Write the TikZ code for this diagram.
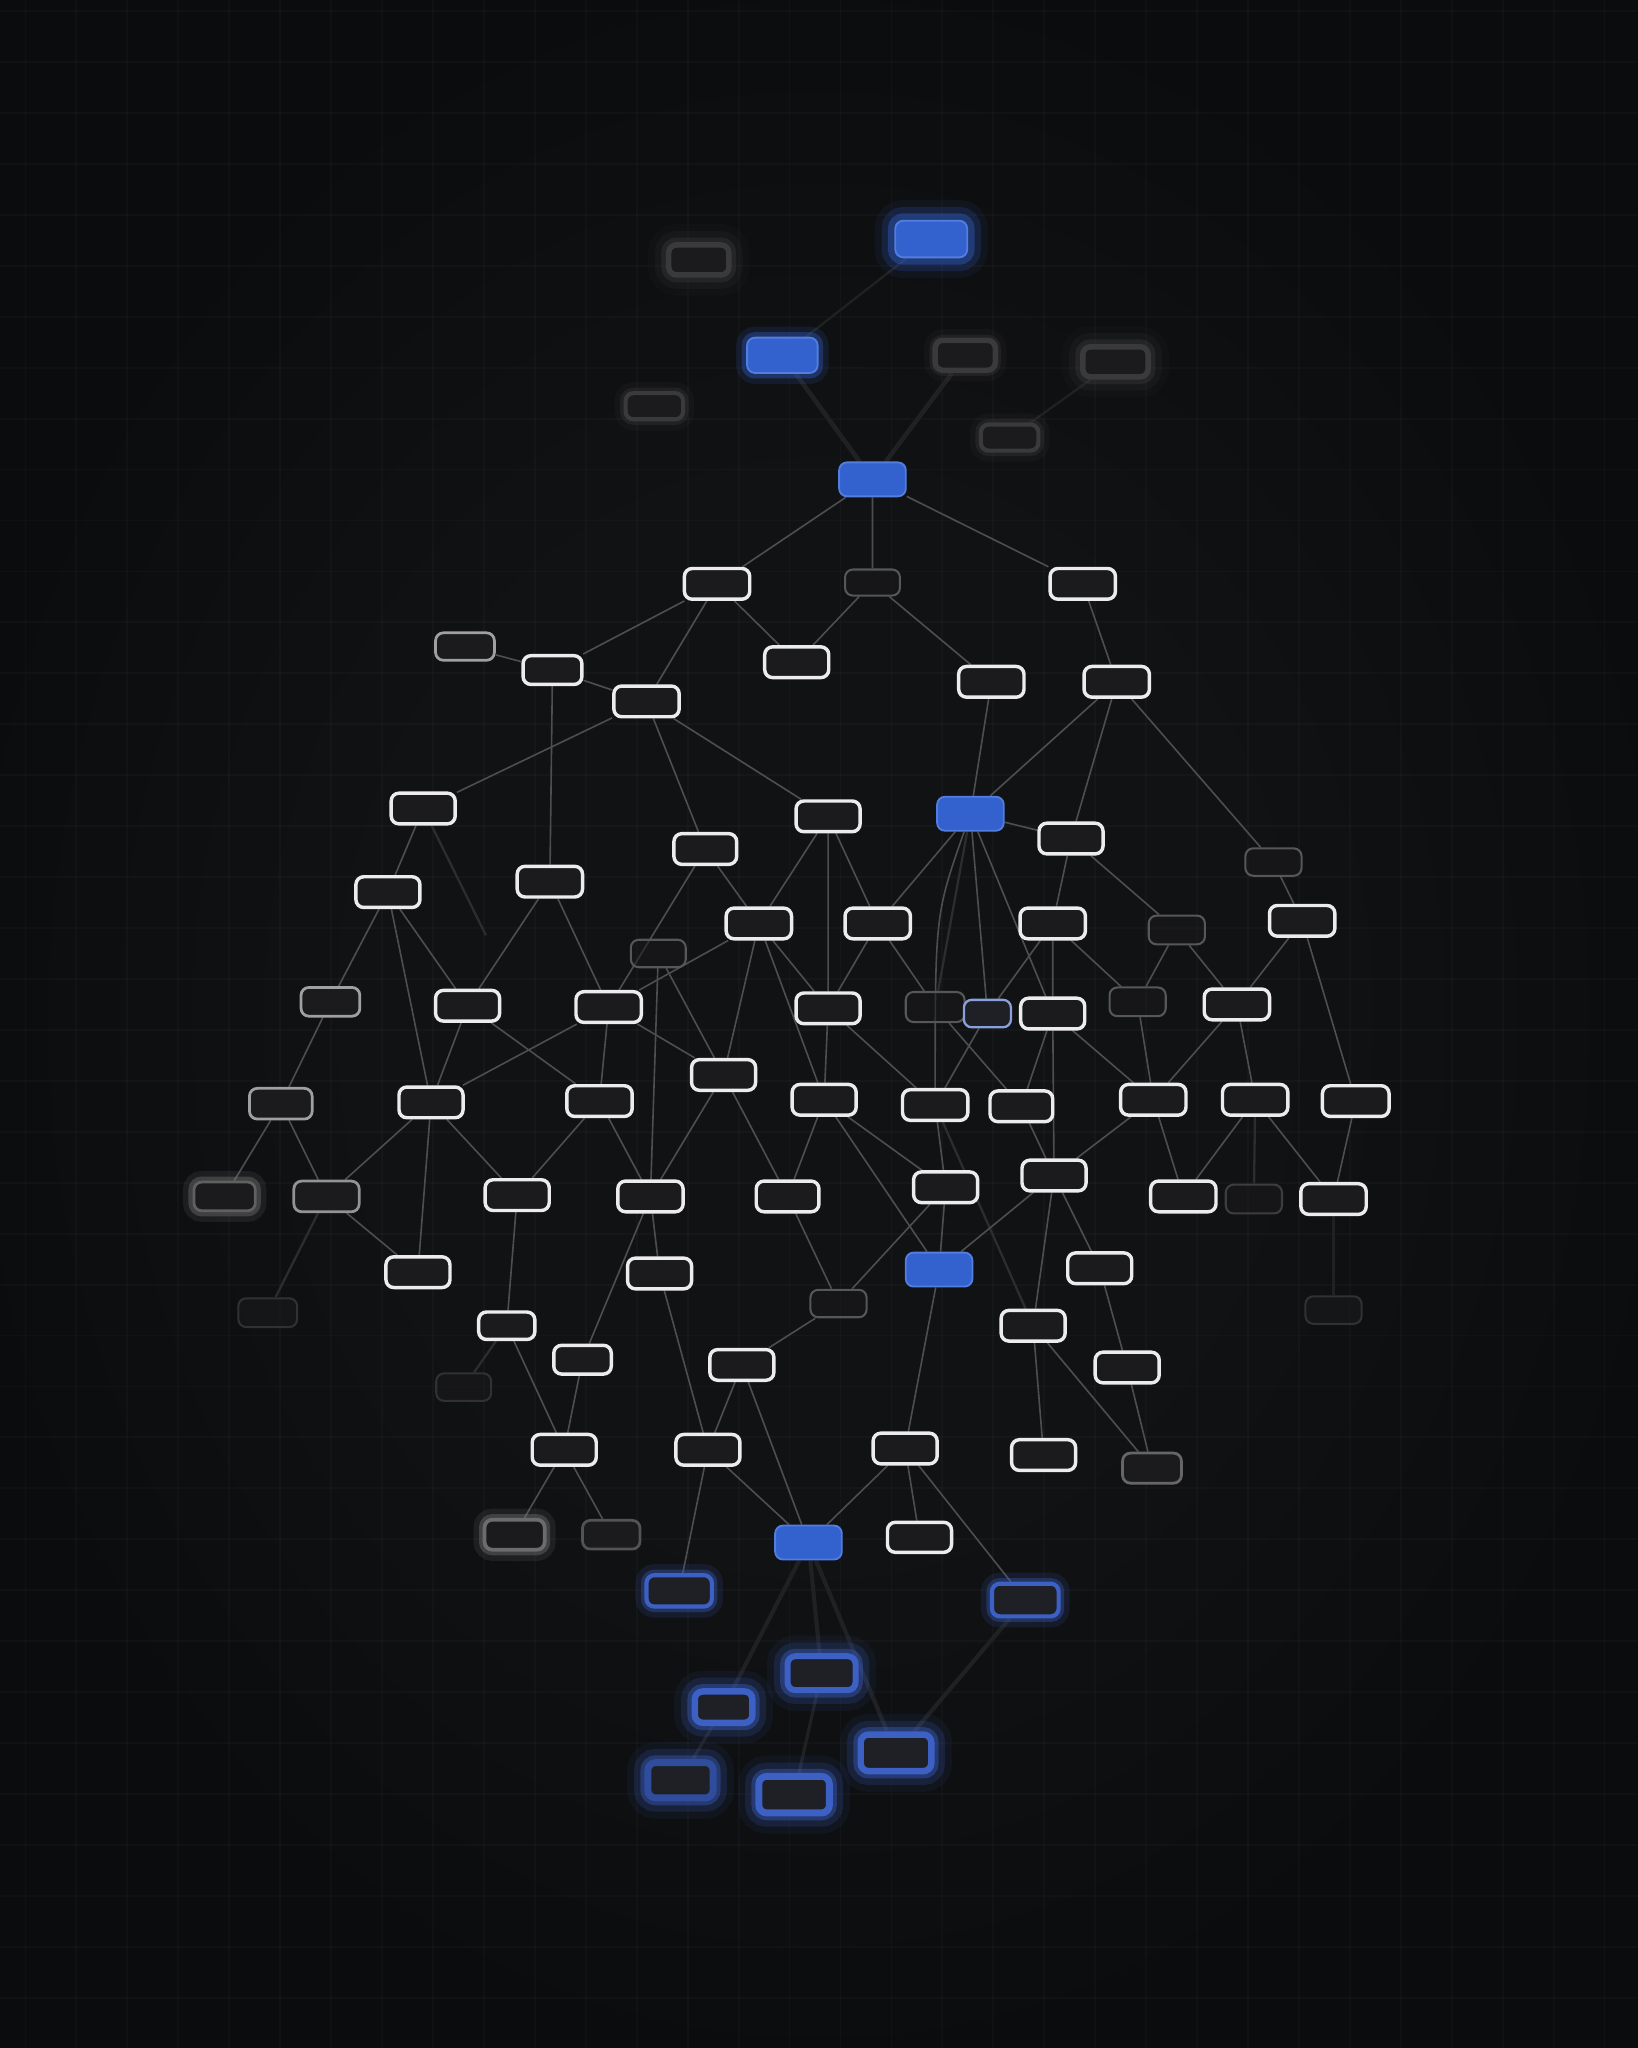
\documentclass[tikz,border=0pt]{standalone}
\definecolor{cardfill}{RGB}{27,27,29}
\definecolor{cardline}{RGB}{236,236,236}
\definecolor{dullgray}{RGB}{160,160,162}
\definecolor{ghostline}{RGB}{86,87,89}
\definecolor{fadeline}{RGB}{48,49,51}
\definecolor{hotblue}{RGB}{51,97,205}
\definecolor{hotedge}{RGB}{82,126,226}
\definecolor{ringblue}{RGB}{60,96,196}
\definecolor{ringfill}{RGB}{30,32,38}
\definecolor{smoke}{RGB}{58,58,60}
\definecolor{linkgray}{RGB}{78,78,80}
\definecolor{linkdim}{RGB}{44,45,47}
\definecolor{linkfade}{RGB}{32,33,35}
\definecolor{bgdark}{RGB}{11,12,13}
\definecolor{bgglow}{RGB}{25,26,28}
\pgfdeclarelayer{back}
\pgfdeclarelayer{wires}
\pgfsetlayers{back,wires,main}

\begin{document}
\begin{tikzpicture}[
    x=0.01cm, y=-0.01cm,
    card/.style={rectangle, rounded corners=0.06cm, inner sep=0pt, minimum width=0.49cm, minimum height=0.235cm, fill=cardfill, draw=cardline, line width=0.75pt},
    dull/.style={card, draw=#1, line width=0.6pt},
    dull/.default=dullgray,
    ghost/.style={card, draw=ghostline, line width=0.45pt, fill opacity=0.55, minimum width=0.43cm, minimum height=0.21cm},
    faded/.style={ghost, draw=fadeline},
    hot/.style={card, fill=hotblue, draw=hotedge, line width=0.4pt, minimum width=0.51cm, minimum height=0.26cm},
    ring/.style={card, fill=ringfill, draw=ringblue, line width=0.9pt},
    smoky/.style={card, draw=smoke, line width=1.2pt},
    haze/.style={preaction={draw=#1, line width=2.4pt, draw opacity=0.35}, preaction={draw=#1, line width=4.8pt, draw opacity=0.14}},
    fog/.style={preaction={draw=#1, line width=3.2pt, draw opacity=0.4}, preaction={draw=#1, line width=6pt, draw opacity=0.18}, preaction={draw=#1, line width=9pt, draw opacity=0.08}},
    link/.style={draw=linkgray, line width=0.35pt},
    dimlink/.style={draw=linkdim, line width=0.5pt},
    fadelink/.style={draw=linkfade, line width=0.7pt},
    gridline/.style={draw=white, opacity=0.022, line width=0.4pt}
  ]

  \useasboundingbox (0,0) rectangle (1254,1568);

  \begin{pgfonlayer}{back}
    \fill[bgdark] (0,0) rectangle (1254,1568);
    \foreach \r in {1,...,10}
      \fill[bgglow, opacity=0.12] (627,780) ellipse [x radius={7cm-0.55cm*\r}, y radius={8.5cm-0.7cm*\r}];
    \foreach \gx in {19.5,58.5,...,1254}
      \draw[gridline] (\gx,0) -- (\gx,1568);
    \foreach \gy in {8.5,47.5,...,1568}
      \draw[gridline] (0,\gy) -- (1254,\gy);
  \end{pgfonlayer}

  % top, out of focus
  \node[hot, fog=hotblue, minimum width=0.55cm, minimum height=0.28cm] (B1) at (713,183) {};
  \node[smoky, fog=smoke, minimum width=0.46cm, minimum height=0.23cm] (G1) at (535,199) {};
  \node[hot, haze=hotblue, minimum width=0.54cm, minimum height=0.27cm] (B2) at (599,272) {};
  \node[smoky, haze=smoke, minimum width=0.46cm, minimum height=0.23cm] (G2) at (739,272) {};
  \node[smoky, fog=smoke, minimum width=0.5cm, minimum height=0.23cm] (G3) at (854,277) {};
  \node[smoky, haze=smoke, minimum width=0.44cm, minimum height=0.2cm, line width=0.9pt] (G4) at (501,311) {};
  \node[smoky, haze=smoke, minimum width=0.44cm, minimum height=0.2cm, line width=0.9pt] (G5) at (773,335) {};
  \node[hot] (B3) at (668,367) {};

  % middle
  \node[card, minimum width=0.5cm] (n1) at (549,447) {};
  \node[ghost, minimum width=0.42cm, minimum height=0.2cm] (n2) at (668,446) {};
  \node[card, minimum width=0.5cm] (n3) at (829,447) {};
  \node[dull, minimum width=0.45cm, minimum height=0.21cm] (n4) at (356,495) {};
  \node[card, minimum width=0.45cm, minimum height=0.22cm] (n5) at (423,513) {};
  \node[card] (n6) at (610,507) {};
  \node[card, minimum width=0.5cm] (n7) at (495,537) {};
  \node[card, minimum width=0.5cm] (n8) at (759,522) {};
  \node[card, minimum width=0.5cm] (n9) at (855,522) {};
  \node[card] (n10) at (324,619) {};
  \node[card] (n11) at (634,625) {};
  \node[hot] (B4) at (743,623) {};
  \node[card] (n12) at (820,642) {};
  \node[card, minimum width=0.48cm] (n13) at (540,650) {};
  \node[ghost] (n14) at (975,660) {};
  \node[card] (n15) at (297,683) {};
  \node[card, minimum width=0.5cm] (n16) at (421,675) {};
  \node[card, minimum width=0.5cm] (n17) at (581,707) {};
  \node[card, minimum width=0.5cm] (n18) at (672,707) {};
  \node[card, minimum width=0.5cm] (n19) at (806,707) {};
  \node[ghost, minimum height=0.22cm] (n20) at (901,712) {};
  \node[card, minimum width=0.5cm] (n21) at (997,705) {};
  \node[ghost, minimum width=0.42cm] (n22) at (504,730) {};
  \node[dull, minimum width=0.45cm, minimum height=0.22cm] (n23) at (253,767) {};
  \node[card] (n24) at (358,770) {};
  \node[card, minimum width=0.5cm] (n25) at (466,771) {};
  \node[card] (n26) at (634,772) {};
  \node[ghost, minimum width=0.45cm, minimum height=0.23cm] (n27) at (716,771) {};
  \node[card, draw=ringblue!60!white, fill=ringfill, line width=0.5pt, minimum width=0.36cm, minimum height=0.21cm] (n28) at (756,776) {};
  \node[card] (n29) at (806,776) {};
  \node[ghost, minimum height=0.22cm] (n30) at (871,767) {};
  \node[card, minimum width=0.5cm] (n31) at (947,769) {};
  \node[card] (n32) at (554,823) {};
  \node[dull, minimum width=0.48cm] (n33) at (215,845) {};
  \node[card] (n34) at (330,844) {};
  \node[card, minimum width=0.5cm] (n35) at (459,843) {};
  \node[card] (n36) at (631,842) {};
  \node[card, minimum width=0.5cm] (n37) at (716,846) {};
  \node[card, minimum width=0.48cm] (n38) at (782,847) {};
  \node[card, minimum width=0.5cm] (n39) at (883,842) {};
  \node[card, minimum width=0.5cm] (n40) at (961,842) {};
  \node[card, minimum width=0.51cm] (n41) at (1038,843) {};
  \node[dull=gray!75!black, haze=gray, minimum width=0.47cm, minimum height=0.22cm] (n42) at (172,916) {};
  \node[dull=gray!85, minimum width=0.5cm] (n43) at (250,916) {};
  \node[card] (n44) at (396,915) {};
  \node[card, minimum width=0.5cm] (n45) at (498,916) {};
  \node[card, minimum width=0.48cm] (n46) at (603,916) {};
  \node[card] (n47) at (724,909) {};
  \node[card] (n48) at (807,900) {};
  \node[card, minimum width=0.5cm] (n49) at (906,916) {};
  \node[faded, draw=ghostline!70!black, minimum height=0.22cm] (n50) at (960,918) {};
  \node[card, minimum width=0.5cm] (n51) at (1021,918) {};

  % lower part
  \node[card] (n52) at (320,974) {};
  \node[card] (n53) at (505,975) {};
  \node[hot] (B5) at (719,972) {};
  \node[card] (n54) at (842,971) {};
  \node[faded, minimum width=0.45cm, minimum height=0.22cm] (n55) at (205,1005) {};
  \node[ghost] (n56) at (642,998) {};
  \node[faded] (n57) at (1021,1003) {};
  \node[card, minimum width=0.43cm, minimum height=0.21cm] (n58) at (388,1015) {};
  \node[card] (n59) at (791,1015) {};
  \node[card, minimum width=0.44cm, minimum height=0.22cm] (n60) at (446,1041) {};
  \node[card] (n61) at (568,1045) {};
  \node[card] (n62) at (863,1047) {};
  \node[faded, minimum width=0.42cm] (n63) at (355,1062) {};
  \node[card] (n64) at (432,1110) {};
  \node[card] (n65) at (542,1110) {};
  \node[card] (n66) at (693,1109) {};
  \node[card] (n67) at (799,1114) {};
  \node[dull=gray!80!black, minimum width=0.45cm, minimum height=0.23cm] (n68) at (882,1124) {};
  \node[dull=gray!85!black, haze=gray, line width=0.8pt, minimum width=0.46cm, minimum height=0.23cm] (n69) at (394,1175) {};
  \node[dull=gray!65!black, minimum width=0.44cm, minimum height=0.22cm] (n70) at (468,1175) {};
  \node[hot] (B6) at (619,1181) {};
  \node[card, minimum height=0.23cm] (n71) at (704,1177) {};

  % bottom, out of focus
  \node[ring, haze=ringblue, minimum width=0.5cm, minimum height=0.24cm] (b1) at (520,1218) {};
  \node[ring, haze=ringblue, minimum width=0.51cm, minimum height=0.25cm] (b2) at (785,1225) {};
  \node[ring, fog=ringblue, line width=1.3pt, minimum width=0.52cm, minimum height=0.26cm] (b3) at (629,1281) {};
  \node[ring, fog=ringblue, line width=1.4pt, minimum width=0.44cm, minimum height=0.24cm] (b4) at (554,1307) {};
  \node[ring, fog=ringblue, line width=1.4pt, minimum width=0.54cm, minimum height=0.28cm] (b5) at (686,1342) {};
  \node[ring, fog=ringblue, line width=1.5pt, draw=ringblue!80!black, minimum width=0.5cm, minimum height=0.27cm] (b6) at (521,1363) {};
  \node[ring, fog=ringblue, line width=1.5pt, minimum width=0.54cm, minimum height=0.28cm] (b7) at (608,1374) {};

  \coordinate (n10end) at (372,716);

  \begin{pgfonlayer}{wires}
    \draw[fadelink, line width=0.5pt] (B1) -- (B2) (G3) -- (G5);
    \draw[fadelink, line width=1pt] (B2) -- (B3) (G2) -- (B3);
    \draw[link] (B3) -- (n1) (B3) -- (n2) (B3) -- (n3);
    \draw[link] (n1) -- (n5) (n1) -- (n7) (n1) -- (n6);
    \draw[link] (n2) -- (n6) (n2) -- (n8) (n3) -- (n9) (n4) -- (n5);
    \draw[link] (n5) -- (n7) (n5) -- (n16);
    \draw[link] (n7) -- (n10) (n7) -- (n13) (n7) -- (n11);
    \draw[link] (n8) -- (B4) (n9) -- (B4) (n9) -- (n12) (n9) -- (n14);
    \draw[link] (n10) -- (n15);
    \draw[dimlink] (n10) -- (n10end);
    \draw[link] (n11) -- (n17) (n11) -- (n18) (n11) -- (n26);
    \draw[link] (B4) -- (n12) (B4) -- (n18) (B4) -- (n28) (B4) -- (n29);
    \draw[link] (B4) .. controls (716,700) .. (n37);
    \draw[dimlink] (B4) -- (n27);
    \draw[link] (n12) -- (n19) (n12) -- (n20);
    \draw[link] (n13) -- (n17) (n13) -- (n25);
    \draw[link] (n14) -- (n21);
    \draw[link] (n15) -- (n23) (n15) -- (n34) (n15) -- (n24);
    \draw[link] (n16) -- (n24) (n16) -- (n25);
    \draw[link] (n17) -- (n25) (n17) -- (n32) (n17) -- (n36) (n17) -- (n26);
    \draw[link] (n18) -- (n26) (n18) -- (n27);
    \draw[link] (n19) -- (n28) (n19) -- (n29) (n19) -- (n30);
    \draw[link] (n20) -- (n30) (n20) -- (n31);
    \draw[link] (n21) -- (n31) (n21) -- (n41);
    \draw[link] (n22) -- (n45) (n22) -- (n32);
    \draw[link] (n23) -- (n33);
    \draw[link] (n24) -- (n34) (n24) -- (n35);
    \draw[link] (n25) -- (n34) (n25) -- (n35) (n25) -- (n32);
    \draw[link] (n26) -- (n36) (n26) -- (n37);
    \draw[link] (n27) -- (n38) (n28) -- (n37);
    \draw[link] (n29) -- (n38) (n29) -- (n48) (n29) -- (n39);
    \draw[link] (n30) -- (n39) (n31) -- (n39) (n31) -- (n40);
    \draw[link] (n32) -- (n45) (n32) -- (n46);
    \draw[link] (n33) -- (n42) (n33) -- (n43);
    \draw[link] (n34) -- (n43) (n34) -- (n52) (n34) -- (n44);
    \draw[link] (n35) -- (n44) (n35) -- (n45);
    \draw[link] (n36) -- (n46) (n36) -- (B5) (n36) -- (n47);
    \draw[link] (n37) -- (n47) (n38) -- (n48);
    \draw[dimlink] (n37) -- (n59);
    \draw[link] (n39) -- (n49) (n39) -- (n48);
    \draw[link] (n40) -- (n49) (n40) -- (n51) (n41) -- (n51);
    \draw[dimlink] (n40) -- (n50);
    \draw[fadelink, line width=0.5pt] (n51) -- (n57);
    \draw[link] (n43) -- (n52);
    \draw[dimlink] (n43) -- (n55);
    \draw[link] (n44) -- (n58) (n45) -- (n60) (n45) -- (n53);
    \draw[link] (n46) -- (n56) (n47) -- (n56) (n56) -- (n61);
    \draw[link] (n47) -- (B5) (n48) -- (B5) (n48) -- (n59) (n48) -- (n54);
    \draw[link] (n53) -- (n65) (n54) -- (n62);
    \draw[dimlink] (n58) -- (n63);
    \draw[link] (n58) -- (n64) (n60) -- (n64);
    \draw[link] (n59) -- (n67) (n59) -- (n68) (n62) -- (n68);
    \draw[link] (n61) -- (n65) (n61) -- (B6);
    \draw[link] (n64) -- (n69) (n64) -- (n70);
    \draw[link] (n65) -- (B6) (n65) -- (b1);
    \draw[link] (B5) -- (n66);
    \draw[link] (n66) -- (B6) (n66) -- (n71) (n66) -- (b2);
    \draw[fadelink, line width=0.9pt] (B6) -- (b4) (B6) -- (b3) (B6) -- (b5) (b2) -- (b5);
    \draw[fadelink] (b3) -- (b7) (b4) -- (b6);
  \end{pgfonlayer}

\end{tikzpicture}
\end{document}
